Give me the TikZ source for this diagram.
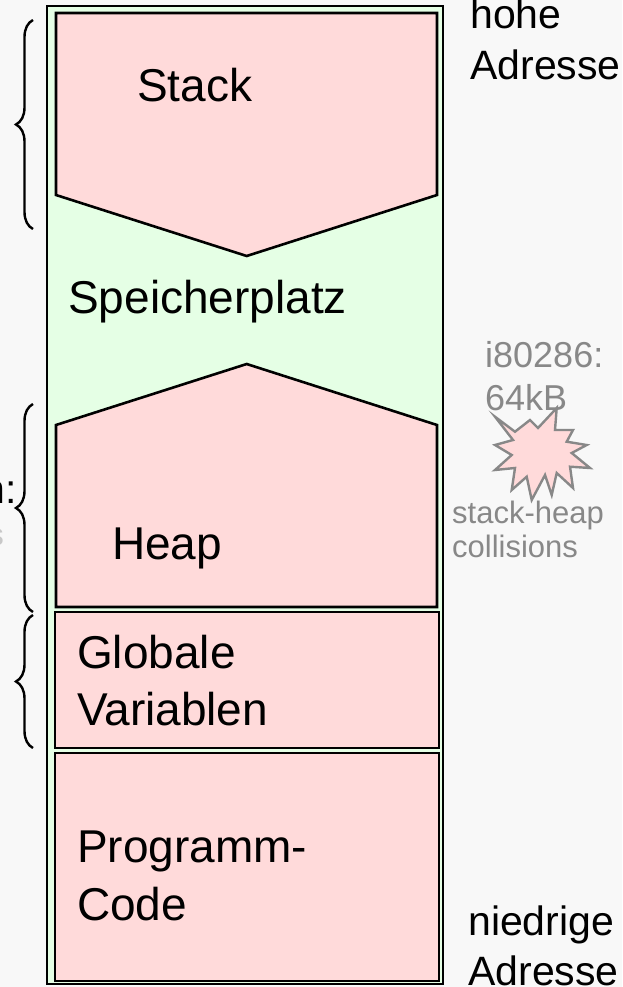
\documentclass[tikz,border=0pt]{standalone}
\usepackage{fontspec}
\setmainfont{Liberation Sans}
\usetikzlibrary{decorations.pathreplacing}
\definecolor{bg}{RGB}{248,248,248}
\definecolor{pinkfill}{RGB}{255,218,218}
\definecolor{greenfill}{RGB}{229,255,229}
\definecolor{greytext}{RGB}{136,136,136}
\definecolor{lightgreytext}{RGB}{200,200,200}
\begin{document}
\begin{tikzpicture}[x=1pt,y=-1pt,
  box/.style={draw=black,line width=2.6pt,fill=pinkfill,line join=miter},
  big/.style={font=\fontsize{46}{55}\selectfont,anchor=base west,inner sep=0pt},
  addr/.style={font=\fontsize{41}{49}\selectfont,anchor=base west,inner sep=0pt},
  greybig/.style={font=\fontsize{36}{43}\selectfont,text=greytext,anchor=base west,inner sep=0pt},
  greysmall/.style={font=\fontsize{31}{37}\selectfont,text=greytext,anchor=base west,inner sep=0pt},
  bracestyle/.style={decorate,decoration={brace,amplitude=17pt},line width=2.4pt}]
\fill[bg] (0,0) rectangle (622,987);
\useasboundingbox (0,0) rectangle (622,987);

% memory column
\draw[line width=2.6pt,fill=greenfill] (47,6) rectangle (443,984);
\draw[box] (56,13) -- (437,13) -- (437,195) -- (246.7,256) -- (56,195) -- cycle;
\draw[box] (56,425) -- (246.7,364) -- (437,425) -- (437,607) -- (56,607) -- cycle;
\draw[box] (55,612) rectangle (439,748);
\draw[box] (55,753) rectangle (439,981);

% labels inside
\node[big] (stack) at (137,102) {Stack};
\node[big] (frei) at (68,313) {Speicherplatz};
\node[big] (heap) at (112,559) {Heap};
\node[big] (glob1) at (77,668) {Globale};
\node[big] (glob2) at (77,725) {Variablen};
\node[big] (prog1) at (77,862) {Programm-};
\node[big] (prog2) at (77,920) {Code};

% address labels
\node[addr] (hohe1) at (470,29) {hohe};
\node[addr] (hohe2) at (470,80) {Adresse};
\node[addr] (nied1) at (468,935) {niedrige};
\node[addr] (nied2) at (468,985) {Adresse};

% braces on the left
\coordinate (b1s) at (33,229); \coordinate (b1e) at (33,20);
\coordinate (b2s) at (33,612); \coordinate (b2e) at (33,404);
\coordinate (b3s) at (33,748); \coordinate (b3e) at (33,615);
\draw[bracestyle] (b1s) -- (b1e);
\draw[bracestyle] (b2s) -- (b2e);
\draw[bracestyle] (b3s) -- (b3e);
\node[addr,anchor=base east] (cut1) at (17,503) {n:};
\node[greysmall,anchor=base east,text=lightgreytext] (cut2) at (4,545) {s};

% collision annotation
\node[greybig] (cpu1) at (485,367) {i80286:};
\node[greybig] (cpu2) at (485,410) {64kB};
\node[greysmall] (coll1) at (452,523) {stack-heap};
\node[greysmall] (coll2) at (452,557) {collisions};
\draw[draw=greytext,fill=pinkfill,line width=2.4pt,line join=miter]
  (495,416.7) -- (515,431.7) -- (530,420) -- (538,428) -- (556.7,408)
  -- (555,430) -- (573,430) -- (566.7,441.7) -- (586.7,445) -- (571.7,453)
  -- (590,468) -- (570,466.7) -- (573,488) -- (556.7,473) -- (551.7,495)
  -- (545,475) -- (531.7,500) -- (526.7,476.7) -- (511.7,490) -- (515,468)
  -- (495,470) -- (511.7,455) -- (495,445) -- (513,440) -- cycle;
\end{tikzpicture}
\end{document}
